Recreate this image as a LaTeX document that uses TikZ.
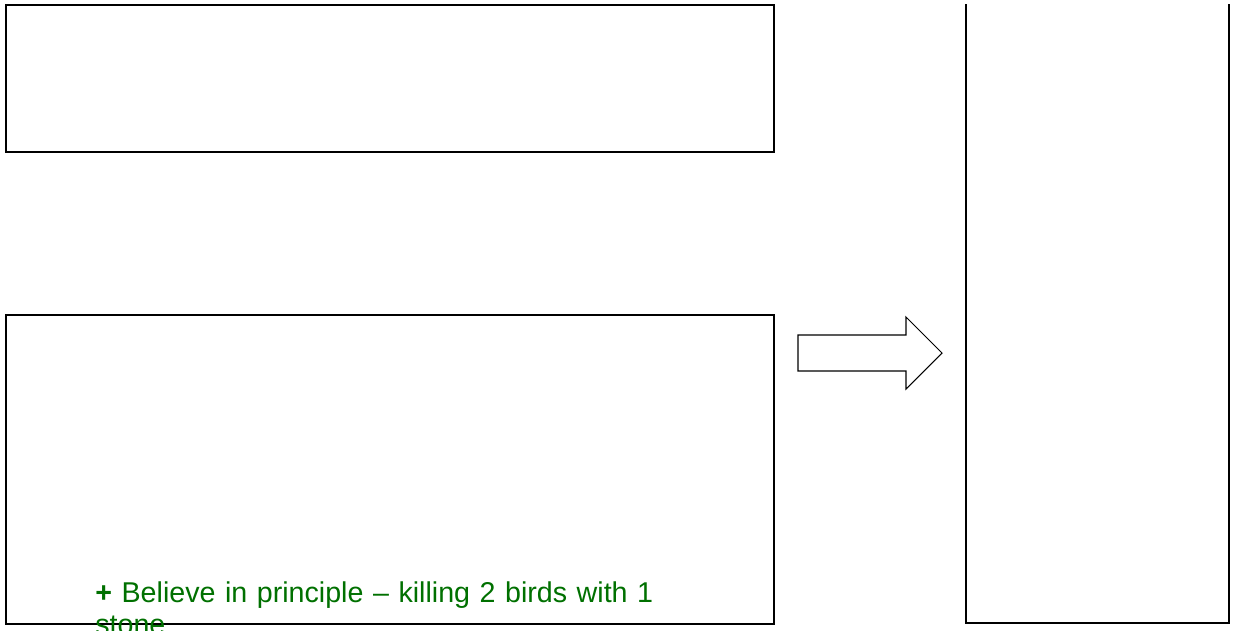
\documentclass[tikz,border=0pt]{standalone}
\usepackage{fontspec}
\setmainfont{Liberation Sans}
\usepackage{tikz}
\definecolor{black}{RGB}{0,0,0}
\definecolor{leaf_green}{RGB}{0,112,0}

\begin{document}
\begin{tikzpicture}[x=0.02cm,y=-0.02cm]
	\tikzset{panel/.style={rectangle,draw=black,line width=1.1pt,inner sep=0pt,minimum width=768*0.02cm}}
	\clip (0,0) rectangle (1234,630);
	\useasboundingbox (0,0) rectangle (1234,630);

	\node[panel,minimum height=147*0.02cm] (top) at (390,78.5) {};
	\node[panel,minimum height=309*0.02cm] (bottom) at (390,469.5) {};

	% tall panel on the right, open at the top
	\coordinate (rtl) at (966,4);
	\coordinate (rbl) at (966,623);
	\coordinate (rbr) at (1229,623);
	\coordinate (rtr) at (1229,4);
	\draw[black,line width=1.1pt] (rtl) -- (rbl) -- (rbr) -- (rtr);

	% block arrow between the panels
	\draw[black,line width=0.6pt,line join=miter]
		(798,335) -- (906,335) -- (906,317) -- (942,353) -- (906,389) -- (906,371) -- (798,371) -- cycle;

	\node[anchor=base west,inner sep=0pt,text width=590*0.02cm,align=left,text=leaf_green,
		font=\fontsize{16.3pt}{18.7pt}\selectfont] (pro) at (95,602)
		{\textbf{+} Believe in principle – killing 2 birds with 1 stone};
\end{tikzpicture}
\end{document}
